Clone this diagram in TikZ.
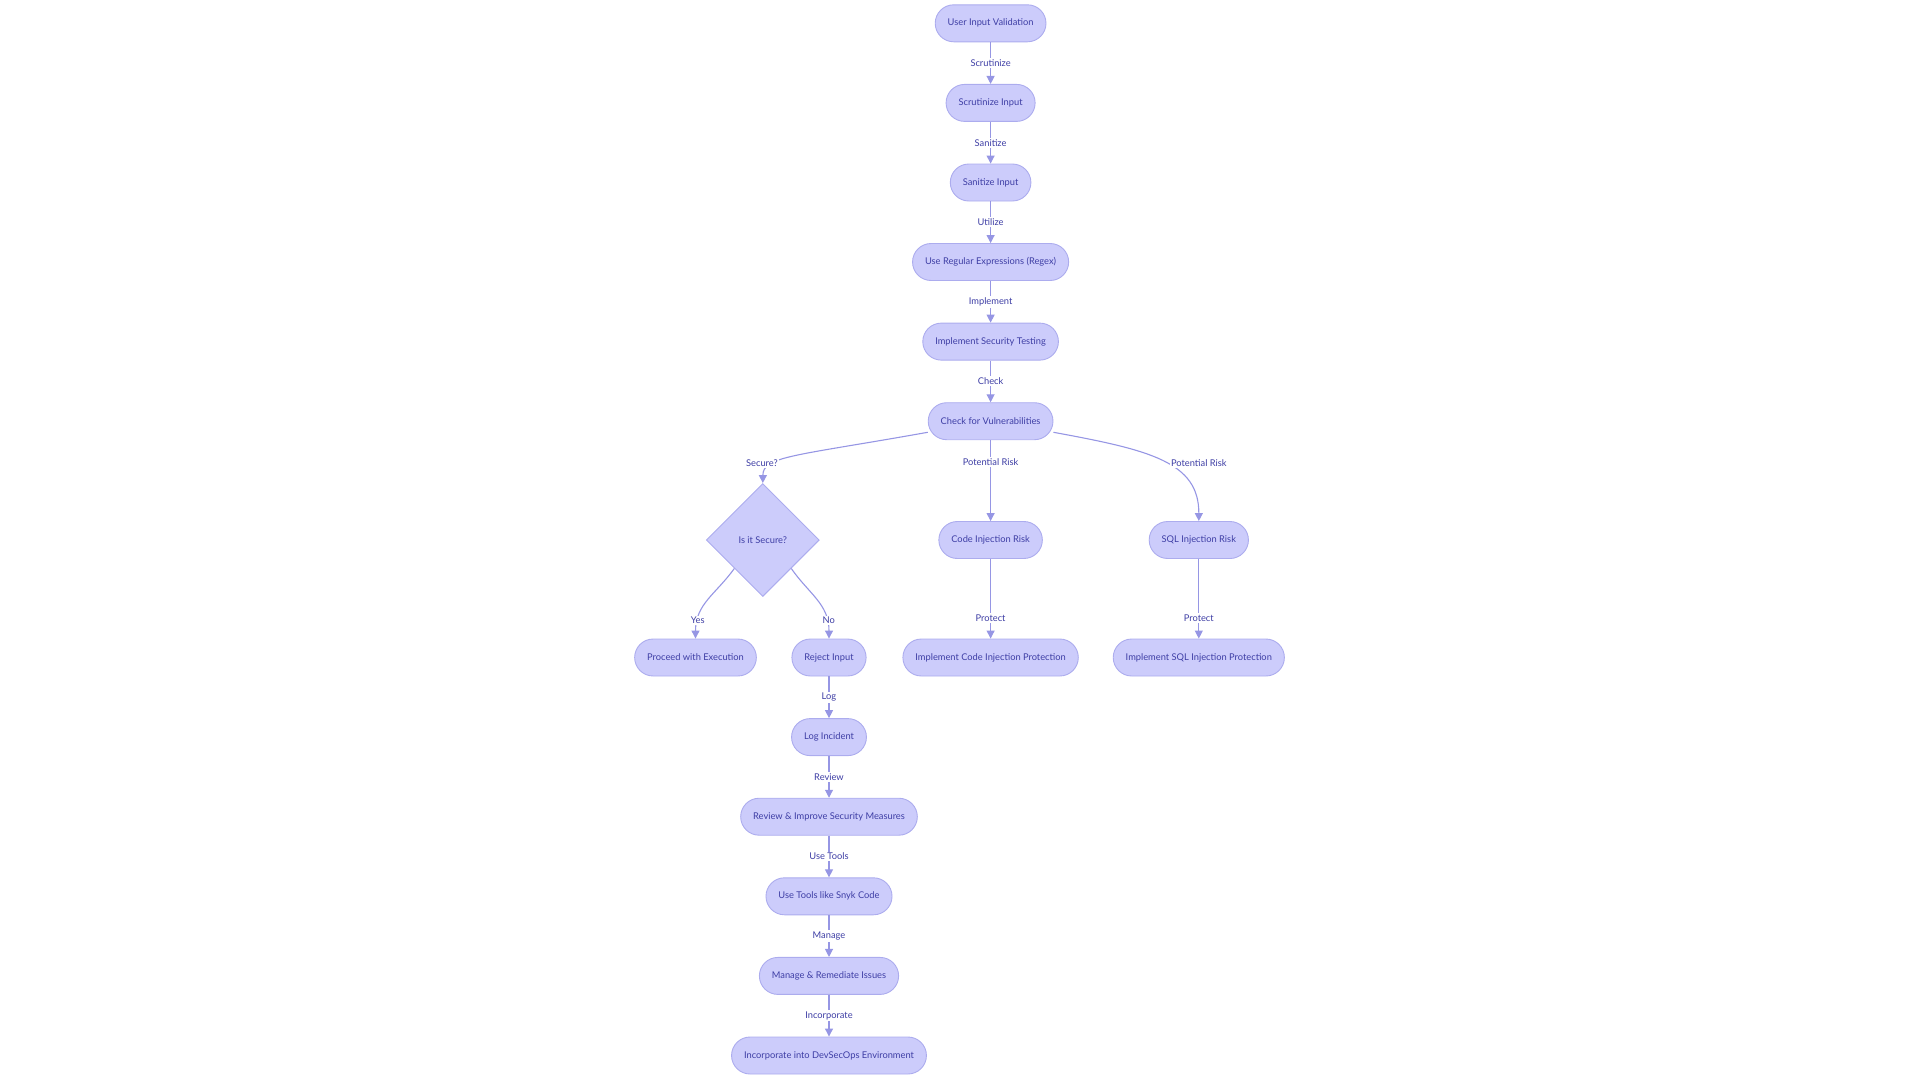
\documentclass[tikz,border=0pt]{standalone}
\usepackage{fontspec}
\setmainfont{Lato}
\usetikzlibrary{arrows.meta, shapes.geometric}
\definecolor{boxfill}{RGB}{204,204,251}
\definecolor{boxline}{RGB}{172,172,238}
\definecolor{flowline}{RGB}{150,150,228}
\definecolor{flowtext}{RGB}{62,62,165}
\begin{document}
\begin{tikzpicture}[x=1pt, y=-1pt,
  every node/.style={font=\fontsize{9.3}{11}\selectfont, text=flowtext},
  stadium/.style={draw=boxline, fill=boxfill, line width=0.9pt, rounded corners=18.5pt, minimum height=37pt, inner xsep=12.5pt},
  decide/.style={draw=boxline, fill=boxfill, line width=0.9pt, diamond, minimum width=113pt, minimum height=113pt, inner sep=0pt},
  flow/.style={-{Triangle[length=8pt, width=8pt]}, draw=flowline, line width=1.1pt},
  lbl/.style={fill=white, inner sep=1.5pt}]
\useasboundingbox (0,0) rectangle (1920,1080);
\node[stadium] (uiv) at (990.6,23.3) {User Input Validation};
\node[stadium] (scr) at (990.6,102.9) {Scrutinize Input};
\node[stadium] (san) at (990.6,182.5) {Sanitize Input};
\node[stadium] (rgx) at (990.6,262.0) {Use Regular Expressions (Regex)};
\node[stadium] (ist) at (990.6,341.6) {Implement Security Testing};
\node[stadium] (chk) at (990.6,421.2) {Check for Vulnerabilities};
\node[decide] (sec) at (762.8,540.0) {Is it Secure?};
\node[stadium] (cir) at (990.6,540.0) {Code Injection Risk};
\node[stadium] (sqr) at (1198.8,540.0) {SQL Injection Risk};
\node[stadium] (pex) at (695.5,657.5) {Proceed with Execution};
\node[stadium] (rej) at (829.0,657.5) {Reject Input};
\node[stadium] (cip) at (990.6,657.5) {Implement Code Injection Protection};
\node[stadium] (sqp) at (1198.8,657.5) {Implement SQL Injection Protection};
\node[stadium] (log) at (829.0,737.1) {Log Incident};
\node[stadium] (rev) at (829.0,816.7) {Review \& Improve Security Measures};
\node[stadium] (snk) at (829.0,896.3) {Use Tools like Snyk Code};
\node[stadium] (mgr) at (829.0,975.9) {Manage \& Remediate Issues};
\node[stadium] (dso) at (829.0,1055.5) {Incorporate into DevSecOps Environment};
% main column
\draw[flow] (uiv) -- (scr) node[lbl, midway] {Scrutinize};
\draw[flow] (scr) -- (san) node[lbl, midway] {Sanitize};
\draw[flow] (san) -- (rgx) node[lbl, midway] {Utilize};
\draw[flow] (rgx) -- (ist) node[lbl, midway] {Implement};
\draw[flow] (ist) -- (chk) node[lbl, midway] {Check};
% three branches
\draw[flow] (chk.190) .. controls (795,456) and (763,456) .. (sec.north) node[lbl, pos=0.72, xshift=-10pt, yshift=2.5pt] {Secure?};
\draw[flow] (chk) -- (cir) node[lbl, pos=0.27] {Potential Risk};
\draw[flow] (chk.350) .. controls (1150,450) and (1199,462) .. (sqr.north) node[lbl, pos=0.62, xshift=21pt, yshift=8pt] {Potential Risk};
\draw[flow] (sec.south west) .. controls (716,594) and (695.5,604) .. (pex.north) node[lbl, pos=0.8] {Yes};
\draw[flow] (sec.south east) .. controls (809,594) and (829,604) .. (rej.north) node[lbl, pos=0.8, xshift=2pt] {No};
\draw[flow] (cir) -- (cip) node[lbl, pos=0.74] {Protect};
\draw[flow] (sqr) -- (sqp) node[lbl, pos=0.74] {Protect};
% reject path
\draw[flow] (rej) -- (log) node[lbl, midway] {Log};
\draw[flow] (log) -- (rev) node[lbl, midway] {Review};
\draw[flow] (rev) -- (snk) node[lbl, midway] {Use Tools};
\draw[flow] (snk) -- (mgr) node[lbl, midway] {Manage};
\draw[flow] (mgr) -- (dso) node[lbl, midway] {Incorporate};
\end{tikzpicture}
\end{document}
